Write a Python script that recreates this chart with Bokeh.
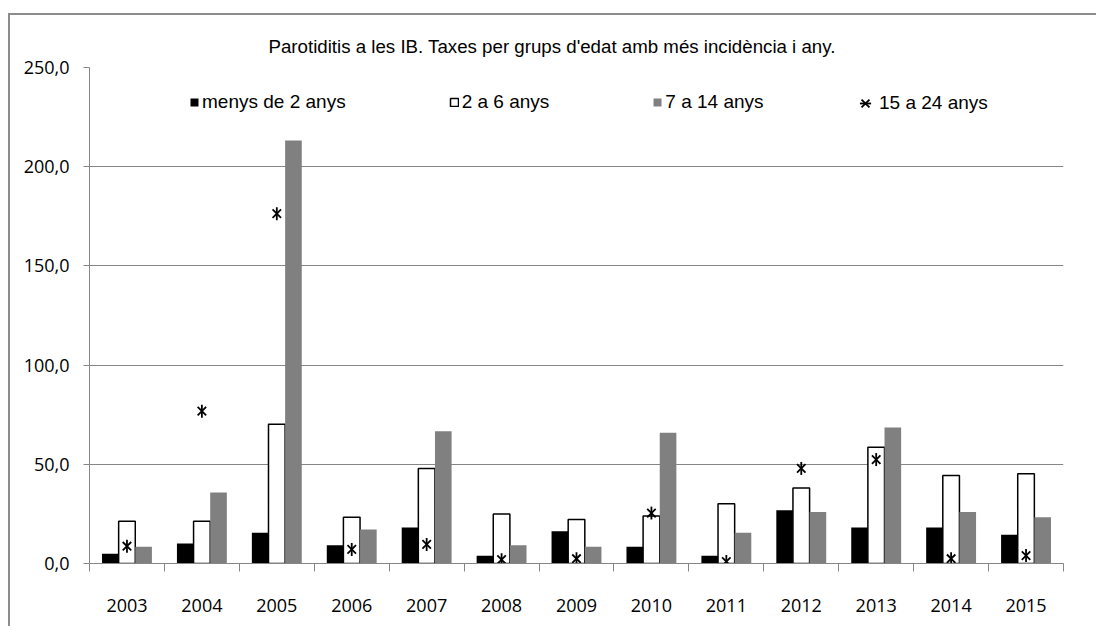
from math import pi
from bokeh.plotting import figure
from bokeh.models import (ColumnDataSource, FixedTicker, LinearAxis, Legend,
                          LegendItem, Range1d)
from bokeh.transform import dodge
from bokeh.embed import file_html
from bokeh.resources import INLINE

years = ["2003", "2004", "2005", "2006", "2007", "2008", "2009",
         "2010", "2011", "2012", "2013", "2014", "2015"]
menys_de_2 = [4.9, 10.1, 15.5, 9.2, 18.1, 3.9, 16.3, 8.4, 3.9, 26.9, 18.1, 18.1, 14.5]
de_2_a_6 = [21.3, 21.3, 70.2, 23.3, 47.9, 24.9, 22.2, 24.0, 30.1, 38.1, 58.6, 44.4, 45.2]
de_7_a_14 = [8.4, 35.8, 213.2, 17.1, 66.7, 9.2, 8.4, 65.9, 15.5, 26.0, 68.5, 26.0, 23.3]
de_15_a_24 = [8.7, 76.8, 176.3, 7.1, 9.6, 1.9, 2.4, 25.4, 1.0, 47.9, 52.4, 2.4, 4.0]
series_names = ["menys de 2 anys", "2 a 6 anys", "7 a 14 anys", "15 a 24 anys"]
y_ticks = [0, 50, 100, 150, 200, 250]
y_tick_labels = ["0,0", "50,0", "100,0", "150,0", "200,0", "250,0"]
title_text = "Parotiditis a les IB. Taxes per grups d'edat amb més incidència i any."

GRID = "#868686"
LBL_FONT = "Open Sans"
TXT_FONT = "Liberation Sans"

idx = list(range(len(years)))
src = ColumnDataSource(dict(x=idx, a=menys_de_2, b=de_2_a_6, c=de_7_a_14, d=de_15_a_24))

p = figure(width=1088, height=613, output_backend="svg", toolbar_location=None,
           x_range=Range1d(-0.5, len(years) - 0.5), y_range=Range1d(y_ticks[0], y_ticks[-1]),
           min_border_left=79, min_border_right=35, min_border_top=52, min_border_bottom=65,
           background_fill_color="white", border_fill_color="white")
p.outline_line_color = None
# outer chart border (left and top edges are visible in the window)
p.styles = {"margin-left": "8px", "margin-top": "13px",
            "border-left": "2px solid #8c8c8c", "border-top": "2px solid #8c8c8c"}

bw = 0.222
r1 = p.vbar(x=dodge("x", -bw, range=p.x_range), top="a", width=bw, source=src,
            fill_color="black", line_color=None)
r2 = p.vbar(x=dodge("x", 0, range=p.x_range), top="b", width=bw, source=src,
            fill_color="white", line_color="black", line_width=1.5)
r3 = p.vbar(x=dodge("x", bw, range=p.x_range), top="c", width=bw, source=src,
            fill_color="#808080", line_color=None)
r4a = p.scatter(x="x", y="d", source=src, marker="x", size=12, line_color="black", line_width=1.8)
r4b = p.scatter(x="x", y="d", source=src, marker="dash", angle=pi / 2, size=13,
                line_color="black", line_width=1.8)

# y axis
yax = p.yaxis[0]
yax.ticker = FixedTicker(ticks=y_ticks)
yax.major_label_overrides = {t: l for t, l in zip(y_ticks, y_tick_labels)}
yax.axis_line_color = GRID
yax.major_tick_line_color = GRID
yax.major_tick_out = 6
yax.major_tick_in = 0
yax.minor_tick_line_color = None
yax.major_label_standoff = 14
yax.major_label_text_font = LBL_FONT
yax.major_label_text_font_size = "18px"
yax.major_label_text_color = "black"

p.ygrid.ticker = FixedTicker(ticks=y_ticks)
p.ygrid.grid_line_color = GRID
p.xgrid.grid_line_color = None

# x axis: boundary ticks
xax = p.xaxis[0]
xax.ticker = FixedTicker(ticks=[i - 0.5 for i in range(len(years) + 1)])
xax.major_label_overrides = {i - 0.5: "" for i in range(len(years) + 1)}
xax.major_label_text_font_size = "1px"
xax.major_label_standoff = 0
xax.axis_line_color = GRID
xax.major_tick_line_color = GRID
xax.major_tick_out = 8
xax.major_tick_in = 0
xax.minor_tick_line_color = None

# x axis: category labels
xlab = LinearAxis(ticker=FixedTicker(ticks=idx),
                  major_label_overrides={i: y for i, y in zip(idx, years)})
xlab.axis_line_color = None
xlab.major_tick_line_color = None
xlab.minor_tick_line_color = None
xlab.major_tick_out = 0
xlab.major_tick_in = 0
xlab.major_label_standoff = 27
xlab.major_label_text_font = LBL_FONT
xlab.major_label_text_font_size = "18px"
xlab.major_label_text_color = "black"
p.add_layout(xlab, "below")

# title
p.title.text = title_text
p.title.align = "left"
p.title.offset = 179
p.title.standoff = 22
p.title.text_font = TXT_FONT
p.title.text_font_size = "18.7px"
p.title.text_font_style = "normal"
p.title.text_color = "black"

legend = Legend(items=[LegendItem(label=series_names[0], renderers=[r1]),
                       LegendItem(label=series_names[1], renderers=[r2]),
                       LegendItem(label=series_names[2], renderers=[r3])],
                orientation="horizontal", location=(100, 450),
                glyph_width=10, glyph_height=10, label_standoff=3, label_width=0,
                label_height=20, spacing=103, padding=0, margin=0,
                border_line_color=None, background_fill_alpha=0,
                label_text_font=TXT_FONT, label_text_font_size="19px",
                label_text_color="black")
p.add_layout(legend, "center")

legend2 = Legend(items=[LegendItem(label=series_names[3], renderers=[r4a, r4b])],
                 orientation="horizontal", location=(762, 446),
                 glyph_width=28, glyph_height=28, label_standoff=-2, label_width=0,
                 label_height=20, spacing=0, padding=0, margin=0,
                 border_line_color=None, background_fill_alpha=0,
                 label_text_font=TXT_FONT, label_text_font_size="19px",
                 label_text_color="black")
p.add_layout(legend2, "center")

open("out.html", "w").write(file_html(p, INLINE))
